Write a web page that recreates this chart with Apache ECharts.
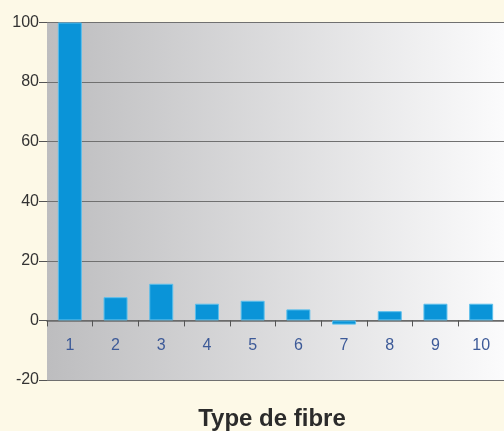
<!DOCTYPE html>
<html>
<head>
<meta charset="utf-8">
<script src="https://cdn.jsdelivr.net/npm/echarts@6/dist/echarts.min.js"></script>
<style>
  html, body { margin: 0; padding: 0; background: #fdf9e7; }
  #main { width: 504px; height: 431px; }
</style>
</head>
<body>
<div id="main"></div>
<script>
// données
var categories = ["1", "2", "3", "4", "5", "6", "7", "8", "9", "10"];
var values = [100, 7.8, 12.3, 5.6, 6.6, 3.7, -1.4, 3.1, 5.6, 5.6];
var yTicks = { min: -20, max: 100, interval: 20 };
var xTitle = "Type de fibre";

(function () {
  var myChart = echarts.init(document.getElementById("main"));
  var option = {
    backgroundColor: "#fdf9e7",
    animation: false,
    title: {
      text: xTitle,
      left: 267,
      textAlign: "center",
      top: 402,
      textStyle: {
        color: "#2b2b2b",
        fontFamily: "Liberation Sans",
        fontSize: 24,
        fontWeight: "bold"
      }
    },
    grid: {
      left: 47,
      right: 0,
      top: 22.5,
      bottom: 51,
      show: true,
      borderWidth: 0,
      // fond dégradé gris -> blanc
      backgroundColor: new echarts.graphic.LinearGradient(0, 0, 1, 0, [
        { offset: 0, color: "#bdbdbf" },
        { offset: 1, color: "#fbfbfc" }
      ])
    },
    xAxis: {
      type: "category",
      data: categories,
      axisLine: { onZero: true, lineStyle: { color: "#6a6a6a", width: 1.5 } },
      axisTick: { show: true, length: 6, lineStyle: { color: "#555" } },
      axisLabel: {
        color: "#3d5a98",
        fontFamily: "Liberation Sans",
        fontSize: 16,
        margin: -42   // les étiquettes restent en bas du grid : on les remonte sous le zéro
      }
    },
    yAxis: {
      type: "value",
      min: yTicks.min,
      max: yTicks.max,
      interval: yTicks.interval,
      axisLine: { show: false },
      axisTick: { show: true, length: 8, lineStyle: { color: "#555" } },
      axisLabel: {
        color: "#333",
        fontFamily: "Liberation Sans",
        fontSize: 16,
        margin: 8
      },
      splitLine: { lineStyle: { color: "#707070", width: 1.2 } }
    },
    series: [
      {
        type: "bar",
        data: values,
        barWidth: 24,
        itemStyle: { color: "#0a94d8", borderColor: "#5cbfec", borderWidth: 1 }
      }
    ]
  };
  myChart.setOption(option);
})();
</script>
</body>
</html>
